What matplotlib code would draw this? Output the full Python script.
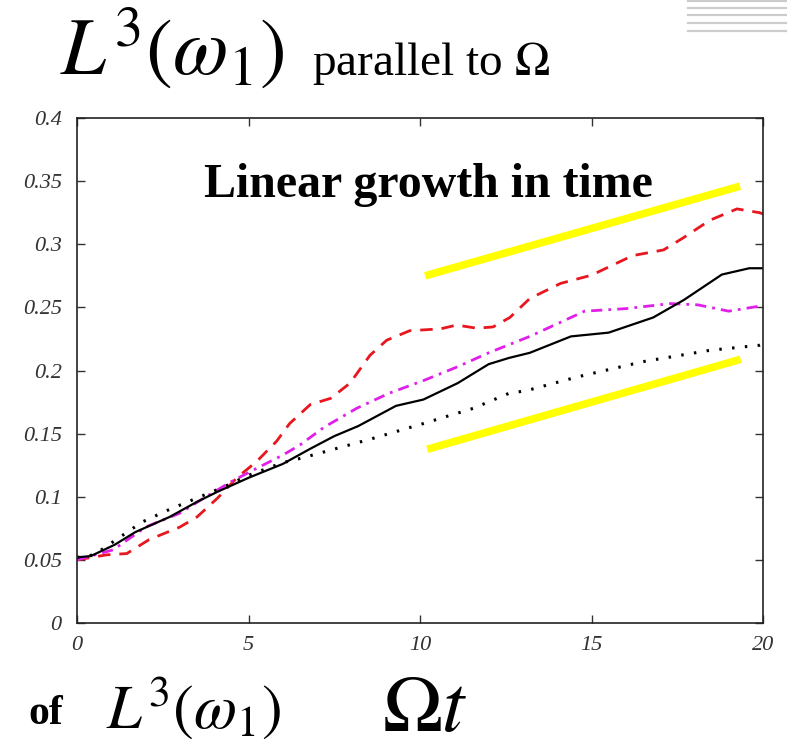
import numpy as np
import matplotlib.pyplot as plt
from matplotlib.lines import Line2D

plt.rcParams['mathtext.fontset'] = 'stix'
plt.rcParams['font.family'] = ['Liberation Serif', 'DejaVu Serif']

W, H = 787, 747

# curves of L^3(omega_1) vs Omega t
t_solid = [0, 0.4, 1.1, 1.7, 2.7, 3.5, 4.1, 5.0, 6.0, 6.8, 7.5, 8.2, 9.3, 10.1, 11.1,
           12.0, 12.6, 13.2, 14.4, 15.5, 16.8, 17.7, 18.8, 19.6, 20]
v_solid = [0.052, 0.053, 0.062, 0.072, 0.084, 0.096, 0.104, 0.115, 0.126, 0.138, 0.148,
           0.156, 0.172, 0.177, 0.190, 0.205, 0.210, 0.214, 0.227, 0.230, 0.242, 0.256,
           0.276, 0.281, 0.281]

t_dot = [0, 0.5, 1.25, 1.9, 2.7, 3.5, 4.3, 5.0, 6.0, 6.6, 7.4, 8.6, 10.1, 11.55, 12.6,
         13.1, 14.6, 16.5, 18.45, 19.9, 20]
v_dot = [0.052, 0.054, 0.068, 0.080, 0.090, 0.099, 0.108, 0.117, 0.127, 0.131, 0.137,
         0.146, 0.158, 0.170, 0.182, 0.184, 0.195, 0.207, 0.216, 0.220, 0.221]

t_mag = [0, 1.06, 2.0, 3.0, 3.7, 4.5, 5.2, 6.0, 6.5, 7.2, 8.15, 9.1, 10.1, 11.1, 12.0,
         13.2, 13.6, 14.8, 16.0, 17.3, 18.1, 19.0, 19.9, 20]
v_mag = [0.050, 0.058, 0.076, 0.087, 0.099, 0.112, 0.122, 0.133, 0.141, 0.155, 0.170,
         0.182, 0.192, 0.203, 0.214, 0.227, 0.232, 0.247, 0.249, 0.253, 0.252, 0.247,
         0.251, 0.251]

t_red = [0, 0.87, 1.45, 2.1, 3.0, 3.5, 4.1, 4.66, 5.24, 5.82, 6.2, 6.8, 7.4, 7.96, 8.54,
         9.03, 9.7, 10.6, 11.07, 11.65, 12.13, 12.62, 13.2, 14.1, 15.0, 16.2, 17.1,
         17.67, 18.45, 19.24, 19.9, 20]
v_red = [0.050, 0.054, 0.055, 0.066, 0.076, 0.084, 0.099, 0.115, 0.128, 0.144, 0.158,
         0.173, 0.178, 0.190, 0.212, 0.224, 0.2315, 0.233, 0.236, 0.2335, 0.2345, 0.242,
         0.257, 0.269, 0.2755, 0.291, 0.2955, 0.305, 0.319, 0.328, 0.325, 0.324]

# guide lines for linear growth
guide_upper_t = [10.15, 19.33]
guide_upper_v = [0.275, 0.346]
guide_lower_t = [10.21, 19.35]
guide_lower_v = [0.1376, 0.2089]

xticks = [0, 5, 10, 15, 20]
yticks = [0, 0.05, 0.1, 0.15, 0.2, 0.25, 0.3, 0.35, 0.4]
ytick_labels = ['0', '0.05', '0.1', '0.15', '0.2', '0.25', '0.3', '0.35', '0.4']


def px(x, y):
    return x / W, 1 - y / H


fig = plt.figure(figsize=(W / 100, H / 100), dpi=100)
ax = fig.add_axes([77 / W, 1 - 623 / H, (763 - 77) / W, (623 - 118) / H])

ax.plot(t_red, v_red, color='#e8161e', lw=2.0, dashes=(4.5, 3.2))
ax.plot(t_mag, v_mag, color='#e020e8', lw=2.0, dashes=(4.0, 2.2, 1.0, 2.2))
ax.plot(t_dot, v_dot, color='black', lw=2.2, dashes=(0.8, 3.4))
ax.plot(t_solid, v_solid, color='black', lw=1.6)

ax.plot(guide_upper_t, guide_upper_v, color='#ffff00', lw=5.5, solid_capstyle='butt')
ax.plot(guide_lower_t, guide_lower_v, color='#ffff00', lw=5.5, solid_capstyle='butt')

ax.set_xlim(0, 20)
ax.set_ylim(0, 0.4)
ax.set_xticks(xticks)
ax.set_xticklabels([str(v) for v in xticks])
ax.set_yticks(yticks)
ax.set_yticklabels(ytick_labels)
ax.tick_params(direction='in', top=True, right=True, length=6, width=1.0,
               labelsize=16, labelcolor='#333333', color='#333333')
ax.tick_params(axis='y', pad=11)
ax.tick_params(axis='x', pad=9)
for lab in ax.get_xticklabels() + ax.get_yticklabels():
    lab.set_fontstyle('italic')
for s in ax.spines.values():
    s.set_linewidth(1.2)
    s.set_color('#222222')

fig.text(*px(204, 197), 'Linear growth in time', fontsize=34.5, fontweight='bold',
         ha='left', va='baseline')

# heading
fig.text(*px(60, 74), r'$L^3(\omega_1)$', fontsize=58, ha='left', va='baseline')
fig.text(*px(312, 75), r'parallel to $\Omega$', fontsize=34, ha='left', va='baseline')

# footer
fig.text(*px(28, 724), 'of', fontsize=30, fontweight='bold', ha='left', va='baseline')
fig.text(*px(106, 728), r'$L^3(\omega_1)$', fontsize=45, ha='left', va='baseline')
fig.text(*px(382, 731), r'$\Omega t$', fontsize=58, ha='left', va='baseline')

# decorative rules in the top-right corner
for yy in [1, 8, 15, 23, 31]:
    fig.add_artist(Line2D([688 / W, 1], [1 - yy / H] * 2, transform=fig.transFigure,
                          color='#cccccc', lw=1.6))

fig.savefig('out.png', dpi=100)
